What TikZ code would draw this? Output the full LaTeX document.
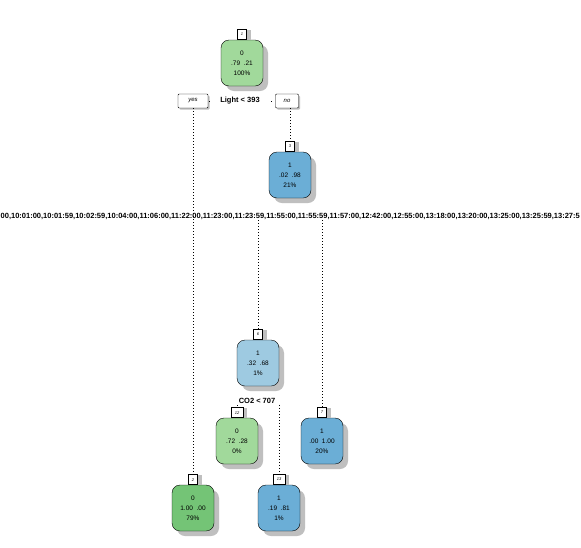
\documentclass[tikz,border=0pt]{standalone}
\usepackage{fontspec}
\setmainfont{Liberation Sans}
\usetikzlibrary{positioning, shadows}
\definecolor{leafgreen}{HTML}{A1D99B}
\definecolor{deepgreen}{HTML}{74C476}
\definecolor{leafblue}{HTML}{6BAED6}
\definecolor{paleblue}{HTML}{9ECAE1}
\definecolor{shadowgray}{HTML}{BFBFBF}
\tikzset{
  tree node/.style={
    draw=black,
    thin,
    rounded corners=8pt,
    minimum width=42pt,
    minimum height=46pt,
    align=center,
    font=\fontsize{6.5}{10}\selectfont,
    inner sep=1pt,
    drop shadow={shadow xshift=5pt, shadow yshift=-5pt, fill=shadowgray, opacity=1}
  },
  node tab/.style={
    draw=black, thin, fill=white,
    minimum width=9pt, minimum height=10pt,
    inner sep=1pt,
    font=\fontsize{4}{4}\selectfont\itshape,
    drop shadow={shadow xshift=4pt, shadow yshift=0pt, fill=shadowgray, opacity=1}
  },
  answer/.style={
    draw=black, thin, fill=white,
    rounded corners=1pt,
    minimum height=14pt, inner sep=1pt,
    font=\fontsize{6}{6}\selectfont\itshape,
    drop shadow={shadow xshift=1.5pt, shadow yshift=-1.5pt, fill=shadowgray, opacity=1}
  },
  split/.style={font=\fontsize{7.5}{7.5}\selectfont\bfseries, inner sep=1pt},
  branch/.style={thin, dash pattern=on 0.8pt off 2.2pt}
}

\begin{document}
\begin{tikzpicture}[x=1pt, y=-1pt]
  \useasboundingbox[fill=white] (0,0) rectangle (581,547);

  % nodes of the tree
  \node[tree node, fill=leafgreen] (n1) at (242,63) {0\\.79\ \ .21\\100\%};
  \node[node tab, above=0pt of n1] (t1) {1};
  \node[tree node, fill=leafblue] (n3) at (290,175) {1\\.02\ \ .98\\21\%};
  \node[node tab, above=0pt of n3] (t3) {3};
  \node[tree node, fill=paleblue] (n6) at (258,363) {1\\.32\ \ .68\\1\%};
  \node[node tab, above=0pt of n6] (t6) {6};
  \node[tree node, fill=leafgreen] (n12) at (237,441) {0\\.72\ \ .28\\0\%};
  \node[node tab, above=0pt of n12, minimum width=12pt] (t12) {12};
  \node[tree node, fill=leafblue] (n7) at (322,441) {1\\.00\ \ 1.00\\20\%};
  \node[node tab, above=0pt of n7] (t7) {7};
  \node[tree node, fill=deepgreen] (n2) at (193,508) {0\\1.00\ \ .00\\79\%};
  \node[node tab, above=0pt of n2] (t2) {2};
  \node[tree node, fill=leafblue] (n13) at (279,508) {1\\.19\ \ .81\\1\%};
  \node[node tab, above=0pt of n13, minimum width=12pt] (t13) {13};

  % split labels
  \node[split] (s1) at (240,101) {Light < 393};
  \node[answer, minimum width=30pt] (yes) at (193,101) {yes};
  \node[answer, minimum width=23pt] (no) at (287,101) {no};
  \node[split, anchor=west] (s3) at (-3,216) {:00,10:01:00,10:01:59,10:02:59,10:04:00,11:06:00,11:22:00,11:23:00,11:23:59,11:55:00,11:55:59,11:57:00,12:42:00,12:55:00,13:18:00,13:20:00,13:25:00,13:25:59,13:27:5};
  \node[split] (s6) at (257,401) {CO2 < 707};

  % branches
  \draw[branch] ([xshift=1pt]yes.east) -- ([xshift=3pt]yes.east);
  \draw[branch] ([xshift=-4pt]no.west) -- ([xshift=-2pt]no.west);
  \draw[branch] (t2.north |- yes.south) -- (t2.north);
  \draw[branch] (t3.north |- no.south) -- (t3.north);
  \draw[branch] (t6.north |- s3.south) -- (t6.north);
  \draw[branch] (t7.north |- s3.south) -- (t7.north);
  \draw[branch] (t12.north |- s6.south) -- (t12.north);
  \draw[branch] (t13.north |- s6.south) -- (t13.north);
\end{tikzpicture}
\end{document}
